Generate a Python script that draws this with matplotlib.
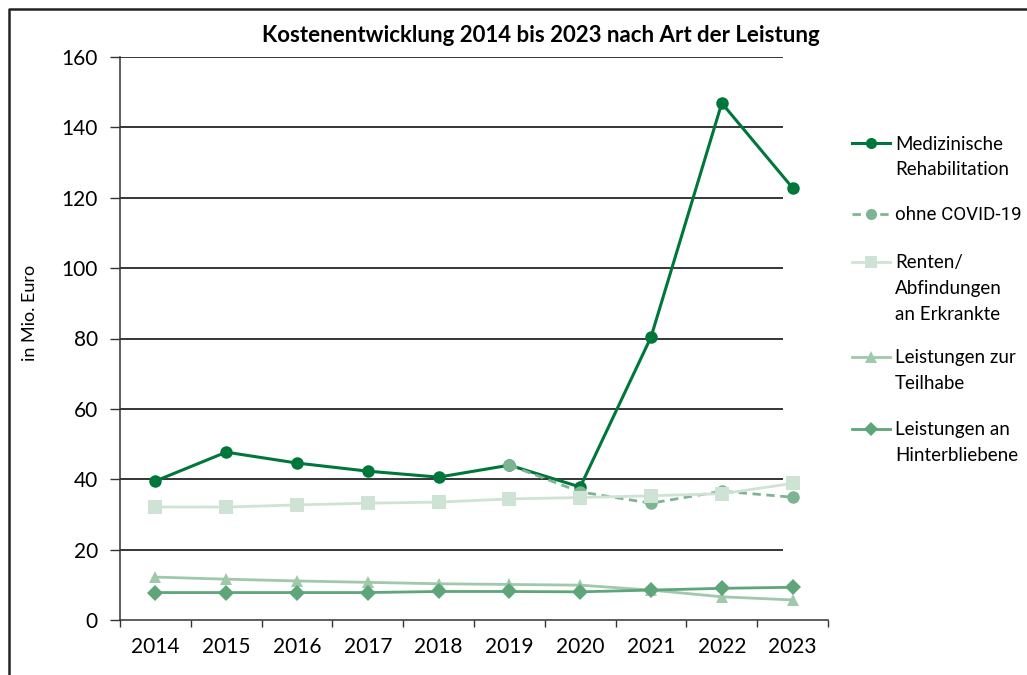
import numpy as np
import matplotlib
matplotlib.use("Agg")
import matplotlib.pyplot as plt
from matplotlib.lines import Line2D

plt.rcParams['font.family'] = ['Lato', 'DejaVu Sans']

years = ["2014", "2015", "2016", "2017", "2018", "2019", "2020", "2021", "2022", "2023"]
med_reha = [39.5, 47.7, 44.6, 42.3, 40.6, 44.0, 37.8, 80.4, 146.9, 122.8]
ohne_covid = [np.nan, np.nan, np.nan, np.nan, np.nan, 44.0, 36.4, 33.2, 36.6, 34.9]
renten = [32.1, 32.1, 32.7, 33.2, 33.5, 34.4, 34.8, 35.3, 35.9, 38.8]
teilhabe = [12.2, 11.6, 11.1, 10.7, 10.3, 10.1, 9.9, 8.5, 6.6, 5.7]
hinterbliebene = [7.8, 7.8, 7.8, 7.8, 8.1, 8.1, 8.0, 8.5, 9.0, 9.3]

series = [
    ("Medizinische\nRehabilitation", med_reha, "#00773a", "o", "-", 2.2, 9),
    ("ohne COVID-19", ohne_covid, "#7db593", "o", (0, (3, 2)), 2.0, 9),
    ("Renten/\nAbfindungen\nan Erkrankte", renten, "#cfe3d4", "s", "-", 2.0, 9.5),
    ("Leistungen zur\nTeilhabe", teilhabe, "#a0c8ab", "^", "-", 2.0, 9),
    ("Leistungen an\nHinterbliebene", hinterbliebene, "#5ea57a", "D", "-", 2.0, 8),
]

W, H = 1027, 675
fig = plt.figure(figsize=(W / 100, H / 100), dpi=100)
ax = fig.add_axes([120 / W, 1 - 620 / H, 708 / W, 563 / H])

x = np.arange(len(years))
for label, vals, col, mk, ls, lw, ms in series:
    ax.plot(x, vals, color=col, marker=mk, linestyle=ls, linewidth=lw,
            markersize=ms, markeredgewidth=0)

ax.set_xlim(-0.5, len(years) - 0.5)
ax.set_ylim(0, 160)
ax.set_yticks(range(0, 161, 20))
ax.hlines(range(20, 161, 20), -0.5, 8.87, color="black", linewidth=1.1, zorder=0)

ax.set_xticks(x)
ax.set_xticklabels(years)
ax.set_xticks(np.arange(-0.5, len(years), 1), minor=True)
ax.tick_params(axis="x", which="major", length=0, pad=12, labelsize=15)
ax.tick_params(axis="x", which="minor", length=5, width=1, color="#333333")
ax.tick_params(axis="y", length=7, width=1, pad=9, labelsize=15, color="#333333")

for s in ["top", "right"]:
    ax.spines[s].set_visible(False)
for s in ["left", "bottom"]:
    ax.spines[s].set_color("#333333")
    ax.spines[s].set_linewidth(1.1)

fig.text(541 / W, 1 - 35 / H, "Kostenentwicklung 2014 bis 2023 nach Art der Leistung",
         ha="center", va="center", fontsize=16, fontweight="bold")
fig.text(30 / W, 1 - 313 / H, "in Mio. Euro", rotation=90, ha="center", va="center",
         fontsize=13)

# legend drawn by hand so the handle sits on the first text line
legend_y = [143, 214, 262, 357, 429]
for (label, vals, col, mk, ls, lw, ms), ly in zip(series, legend_y):
    yy = 1 - ly / H
    fig.add_artist(Line2D([852 / W, 890 / W], [yy, yy], color=col, linestyle=ls,
                          linewidth=lw, transform=fig.transFigure))
    fig.add_artist(Line2D([871 / W], [yy], color=col, marker=mk, markersize=ms - 1,
                          markeredgewidth=0, linestyle="none", transform=fig.transFigure))
    for i, line in enumerate(label.split("\n")):
        t = fig.text(895 / W, 1 - (ly + 1 + i * 25.7) / H, line, ha="left", va="center",
                     fontsize=13.5)
        if "COVID" in line:
            t.set_fontfamily(["Liberation Sans Narrow", "Roboto", "Lato"])
            t.set_fontsize(13.5)

# outer frame
fig.add_artist(Line2D([9 / W, 9 / W, 1], [0, 1 - 9 / H, 1 - 9 / H], color="#222222",
                      linewidth=1.8, transform=fig.transFigure))

fig.savefig("out.png", dpi=100)
